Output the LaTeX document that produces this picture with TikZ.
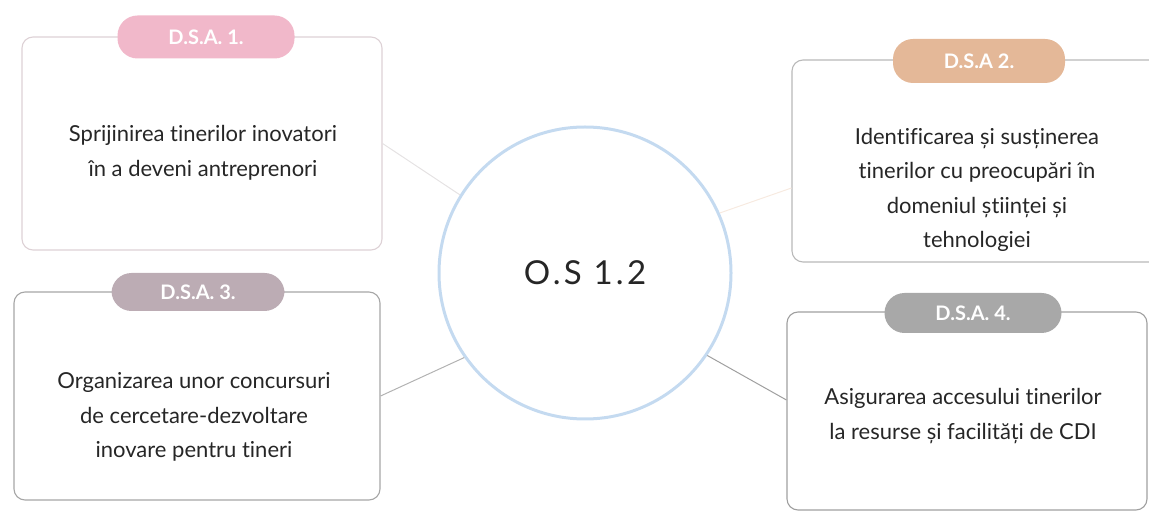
\documentclass[tikz,border=0pt]{standalone}
\usepackage{fontspec}
\setmainfont{Lato}[Ligatures=NoCommon]
\usetikzlibrary{positioning}
\definecolor{tagpink}{RGB}{241,184,202}
\definecolor{tagtan}{RGB}{228,184,152}
\definecolor{tagmauve}{RGB}{188,172,180}
\definecolor{taggray}{RGB}{168,168,168}
\definecolor{ringblue}{RGB}{196,218,240}
\tikzset{
    osmap/.style={
        x=1pt, y=-1pt,
        dsabox/.style={draw=gray!60, line width=1.1pt, rounded corners=11pt, inner sep=0pt},
        tag/.style={rounded corners=20pt, minimum width=174pt, minimum height=41pt, text=white, font=\fontsize{20}{22}\selectfont\bfseries},
        body/.style={align=center, text=black!85, font=\fontsize{22}{34.5}\selectfont},
        link/.style={line width=1pt}
    }
}

\begin{document}
\begin{tikzpicture}[osmap]
    \useasboundingbox (0,0) rectangle (1149,518);

    % Central objective
    \node[circle, draw=ringblue, line width=3pt, minimum size=292pt, font=\fontsize{33}{36}\selectfont, text=black!85] (os) at (585,273) {\addfontfeatures{LetterSpace=10}O.S 1.2};

    % Boxes
    \node[dsabox, draw=tagpink!45!gray!45, minimum width=360pt, minimum height=213pt] (dsa1) at (202,143.5) {};
    \node[dsabox, draw=gray!55, minimum width=370pt, minimum height=202pt] (dsa2) at (977,161) {};
    \node[dsabox, draw=gray!70, minimum width=366pt, minimum height=208pt] (dsa3) at (197,396) {};
    \node[dsabox, draw=gray!75, minimum width=360pt, minimum height=198pt] (dsa4) at (967,411) {};

    % Labels on top of the boxes
    \node[tag, fill=tagpink, minimum width=177pt, minimum height=43pt] (tag1) at (206,37) {D.S.A. 1.};
    \node[tag, fill=tagtan, minimum width=172pt, minimum height=44pt] (tag2) at (979,61) {D.S.A 2.};
    \node[tag, fill=tagmauve, minimum width=173pt, minimum height=38pt] (tag3) at (198,292) {D.S.A. 3.};
    \node[tag, fill=taggray, minimum width=177pt, minimum height=40pt] (tag4) at (973,313) {D.S.A. 4.};

    % Texts
    \node[body] (txt1) at (203,153) {Sprijinirea tinerilor inovatori\\în a deveni antreprenori};
    \node[body] (txt2) at (977,190) {Identificarea și susținerea\\tinerilor cu preocupări în\\domeniul științei și\\tehnologiei};
    \node[body] (txt3) at (194,417) {Organizarea unor concursuri\\de cercetare-dezvoltare\\inovare pentru tineri};
    \node[body] (txt4) at (963,416) {Asigurarea accesului tinerilor\\la resurse și facilități de CDI};

    % Connectors
    \draw[link, draw=tagpink!20!gray!25] (os.148) -- (dsa1.east);
    \draw[link, draw=tagtan!30!white] (os.24) -- ([yshift=-27pt]dsa2.west);
    \draw[link, draw=gray!60] (os.215) -- (dsa3.east);
    \draw[link, draw=gray!75] (os.-34) -- ([yshift=11pt]dsa4.west);
\end{tikzpicture}
\end{document}
